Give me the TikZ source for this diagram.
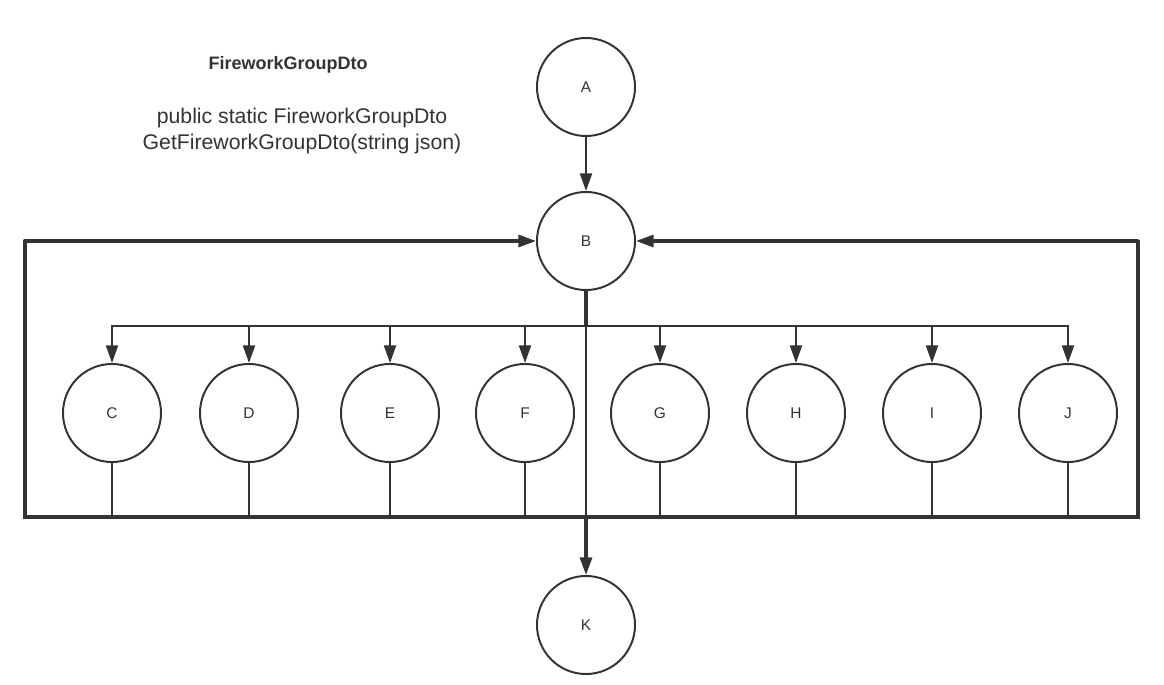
\documentclass[tikz,border=0pt]{standalone}
\usepackage{fontspec}
\setmainfont{Liberation Sans}
\usetikzlibrary{arrows.meta}
\definecolor{ink}{HTML}{333333}
\begin{document}
\begin{tikzpicture}[x=0.025cm, y=-0.025cm, >={Triangle[length=0.44cm,width=0.3cm]}, line width=1.4pt, draw=ink,
main node/.style={circle,draw=ink,line width=1.4pt,minimum size=2.45cm,inner sep=0pt,font=\fontsize{11}{13}\selectfont,text=ink},
loop line/.style={line width=2.4pt, line cap=round}]
\useasboundingbox (0,0) rectangle (1164,684);
% title and method
\node[font=\fontsize{12.8}{16}\selectfont\bfseries, text=ink] (title) at (288,65) {FireworkGroupDto};
\node[font=\fontsize{15.1}{18.4}\selectfont, text=ink, align=center] (method) at (302,131) {public static FireworkGroupDto\\GetFireworkGroupDto(string json)};
\begin{scope}
\node[main node] (a) at (586,87) {A};
\node[main node] (b) at (586,241) {B};
\node[main node] (c) at (112,413) {C};
\node[main node] (d) at (249,413) {D};
\node[main node] (e) at (390,413) {E};
\node[main node] (f) at (525,413) {F};
\node[main node] (g) at (660,413) {G};
\node[main node] (h) at (796,413) {H};
\node[main node] (i) at (932,413) {I};
\node[main node] (j) at (1068,413) {J};
\node[main node] (k) at (586,625) {K};
\coordinate (bus) at (586,326);
\coordinate (kb) at (586,517);
\coordinate (lb) at (25,517);
\coordinate (lt) at (25,241);
\coordinate (rb) at (1138,517);
\coordinate (rt) at (1138,241);
\end{scope}
\begin{scope}
\draw[->] (a) -- (b);
\draw[line width=2.2pt] (b) -- (bus);
\draw[->] (bus) -| (c);
\draw[->] (bus) -| (d);
\draw[->] (bus) -| (e);
\draw[->] (bus) -| (f);
\draw[->] (bus) -| (g);
\draw[->] (bus) -| (h);
\draw[->] (bus) -| (i);
\draw[->] (bus) -| (j);
\draw (bus) -- (kb);
\draw[->, line width=2.2pt] (kb) -- (k);
\draw (c) |- (kb);
\draw (d) |- (kb);
\draw (e) |- (kb);
\draw (f) |- (kb);
\draw (g) |- (kb);
\draw (h) |- (kb);
\draw (i) |- (kb);
\draw (j) |- (kb);
\draw[line width=3pt, line cap=round] (f.south |- lb) -- (lb) -- (lt);
\draw[->, line width=2.2pt] (lt) -- (b);
\draw[loop line] (f.south |- rb) -- (rb) -- (rt);
\draw[->, line width=2.2pt] (rt) -- (b);
\end{scope}
\end{tikzpicture}
\end{document}
